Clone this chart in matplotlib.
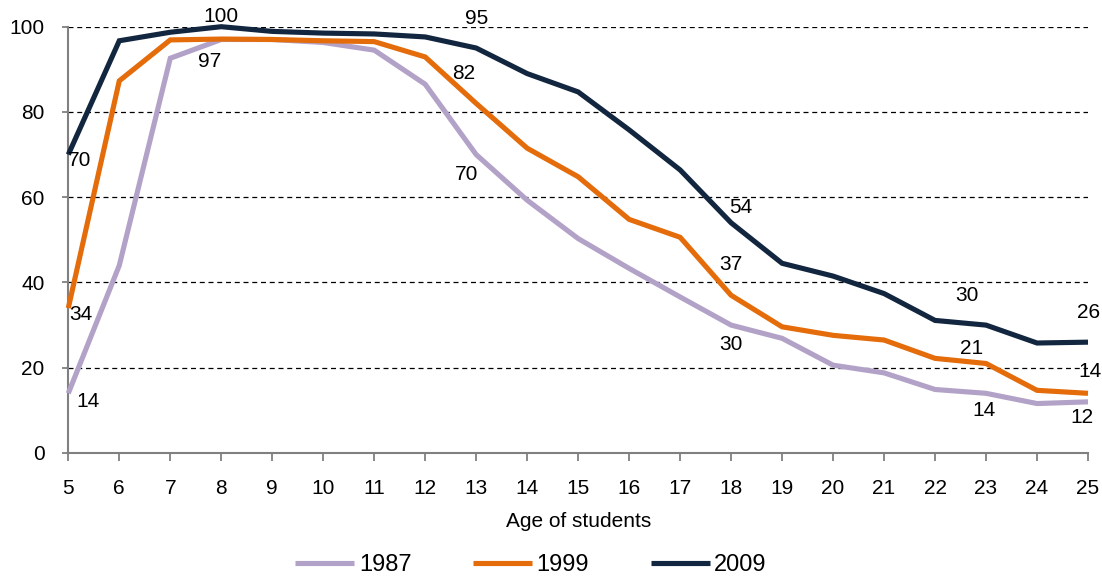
import matplotlib
matplotlib.use("Agg")
import matplotlib.pyplot as plt

plt.rcParams['font.family'] = ['Liberation Sans', 'DejaVu Sans']

ages = list(range(5, 26))
y1987 = [14, 44, 92.6, 97, 97, 96.3, 94.5, 86.5, 70, 59.3, 50.3, 43.3, 36.6, 30,
         26.9, 20.6, 18.8, 14.9, 14, 11.6, 12]
y1999 = [34, 87.3, 96.9, 97.1, 97, 96.7, 96.5, 92.9, 82, 71.5, 64.8, 54.8, 50.6, 37,
         29.6, 27.6, 26.5, 22.2, 21, 14.7, 14]
y2009 = [70, 96.7, 98.7, 100, 98.9, 98.5, 98.3, 97.6, 95, 89, 84.7, 75.8, 66.4, 54,
         44.5, 41.5, 37.4, 31.1, 30, 25.8, 26]

series = [("1987", y1987, "#B3A2C7"),
          ("1999", y1999, "#E46C0A"),
          ("2009", y2009, "#12263F")]

# labelled points: (series index, age, label centre offset in pixels, +y = up)
labels = [
    (2, 5, (11, -6)),
    (1, 5, (13, -6)),
    (0, 5, (20, -8)),
    (2, 8, (0, 10)),
    (0, 8, (-12, -22)),
    (2, 13, (0, 30)),
    (1, 13, (-12, 30)),
    (0, 13, (-10, -20)),
    (2, 18, (10, 15)),
    (1, 18, (0, 31)),
    (0, 18, (0, -19)),
    (2, 23, (-19, 30)),
    (1, 23, (-14, 15)),
    (0, 23, (-2, -17)),
    (2, 25, (1, 30)),
    (1, 25, (2, 22)),
    (0, 25, (-6, -16)),
]

DPI = 100
fig = plt.figure(figsize=(11.02, 5.76), dpi=DPI)
ax = fig.add_axes([68.3 / 1102, 1 - 453 / 576, (1088 - 68.3) / 1102, (453 - 26.7) / 576])

for name, vals, col in series:
    ax.plot(ages, vals, color=col, lw=3.7, label=name, solid_capstyle='butt',
            solid_joinstyle='miter', zorder=3, clip_on=False)

px2pt = 72 / DPI
for si, age, (dx, dy) in labels:
    v = series[si][1][ages.index(age)]
    ax.annotate(f"{v:.0f}", (age, v), xytext=(dx * px2pt, dy * px2pt),
                textcoords="offset points", ha="center", va="center",
                fontsize=15, color="black", zorder=4)

ax.set_xlim(5, 25)
ax.set_ylim(0, 100)
ax.set_xticks(ages)
ax.set_yticks(range(0, 101, 20))
ax.tick_params(axis='both', labelsize=15, colors='#808080', labelcolor='black',
               width=1.3)
ax.tick_params(axis='x', direction='out', length=6, pad=13)
ax.tick_params(axis='y', direction='out', length=4, pad=13)
ax.yaxis.grid(True, linestyle=(0, (4, 3)), color='black', lw=0.9)
ax.set_axisbelow(True)
for s in ['top', 'right']:
    ax.spines[s].set_visible(False)
for s in ['left', 'bottom']:
    ax.spines[s].set_color('#808080')
    ax.spines[s].set_linewidth(1.5)
ax.set_xlabel("Age of students", fontsize=15, labelpad=10)

ax.legend(loc='center', bbox_to_anchor=((531 - 68.3) / (1088 - 68.3), -(565 - 453) / (453 - 26.7)),
          ncol=3, frameon=False, fontsize=17, handlelength=2.5, handletextpad=0.2,
          columnspacing=2.6)

fig.savefig("out.png", dpi=DPI)
